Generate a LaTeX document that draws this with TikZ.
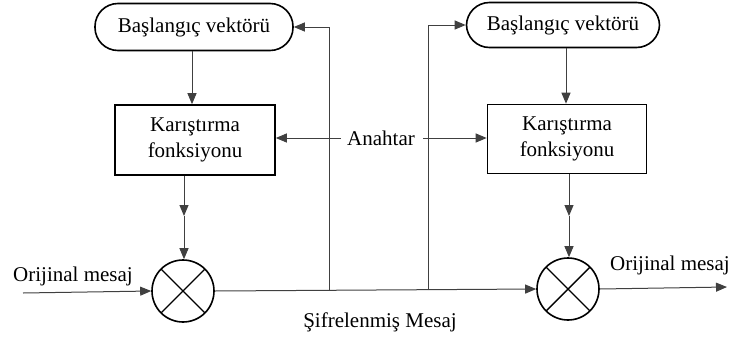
\documentclass[tikz,border=0pt]{standalone}
\usepackage{fontspec}
\setmainfont{Liberation Serif}
\usetikzlibrary{arrows.meta}
\begin{document}
\begin{tikzpicture}[x=1pt,y=-1pt,
  font=\fontsize{21}{24}\selectfont,
  ivbox/.style={draw,line width=1.6pt,rounded corners=23pt,minimum width=198pt,minimum height=47pt,inner sep=0pt},
  mixbox/.style={draw,line width=1.6pt,minimum width=160pt,minimum height=70pt,align=center,inner sep=0pt},
  xorc/.style={draw,line width=1.6pt,circle,minimum size=62pt,inner sep=0pt,
    path picture={\draw[line width=1.4pt] (path picture bounding box.north west)--(path picture bounding box.south east)
      (path picture bounding box.north east)--(path picture bounding box.south west);}},
  lbl/.style={inner sep=0pt},
  conn/.style={draw=black!75,line width=1pt},
  arr/.style={conn,-{Triangle[length=11pt,width=9pt]}}]
\useasboundingbox (0,0) rectangle (734,338);

% initial vector boxes
\node[ivbox] (iv1) at (194,27) {Başlangıç vektörü};
\node[ivbox,minimum width=193pt,minimum height=45pt] (iv2) at (563,25) {Başlangıç vektörü};

% mixing function boxes
\node[mixbox] (mix1) at (195,140) {Karıştırma\\[2pt]fonksiyonu};
\node[mixbox,minimum width=159pt,minimum height=69pt] (mix2) at (567,139) {Karıştırma\\[2pt]fonksiyonu};

% XOR operators
\node[xorc] (x1) at (183,291) {};
\node[xorc] (x2) at (568,289) {};

% labels
\node[lbl] (key) at (381,138) {Anahtar};
\node[lbl] (inl) at (73,276) {Orijinal mesaj};
\node[lbl] (outl) at (670,265) {Orijinal mesaj};
\node[lbl] (cip) at (380,322) {Şifrelenmiş Mesaj};

% free ends and junctions
\coordinate (inp) at (23,293);
\coordinate (outp) at (727,287);
\coordinate (j1) at (329,290);
\coordinate (j2) at (428,290);
\coordinate (m1) at (184,216);
\coordinate (m2) at (569,216);

% vertical feeds
\draw[arr] (iv1.south -| 192,0) -- (mix1.north -| 192,0);
\draw[arr] (iv2.south -| 566,0) -- (mix2.north -| 566,0);
\draw[arr] (mix1.south -| m1) -- (m1);
\draw[arr] (m1) -- (x1.north -| m1);
\draw[arr] (mix2.south -| m2) -- (m2);
\draw[arr] (m2) -- (x2.north -| m2);

% key into mixing functions
\draw[arr] (key.west) ++(-6,0) -- (mix1.east |- key.west);
\draw[arr] (key.east) ++(8,0) -- (mix2.west |- key.east);

% message path
\draw[arr] (inp) -- (x1.west);
\draw[arr] (x1.east) -- (x2.west);
\draw[arr] (x2.east) -- (outp);

% ciphertext feedback to the initial vectors
\draw[arr] (j1) |- (iv1.east);
\draw[arr] (j2) |- (iv2.west);
\end{tikzpicture}
\end{document}
